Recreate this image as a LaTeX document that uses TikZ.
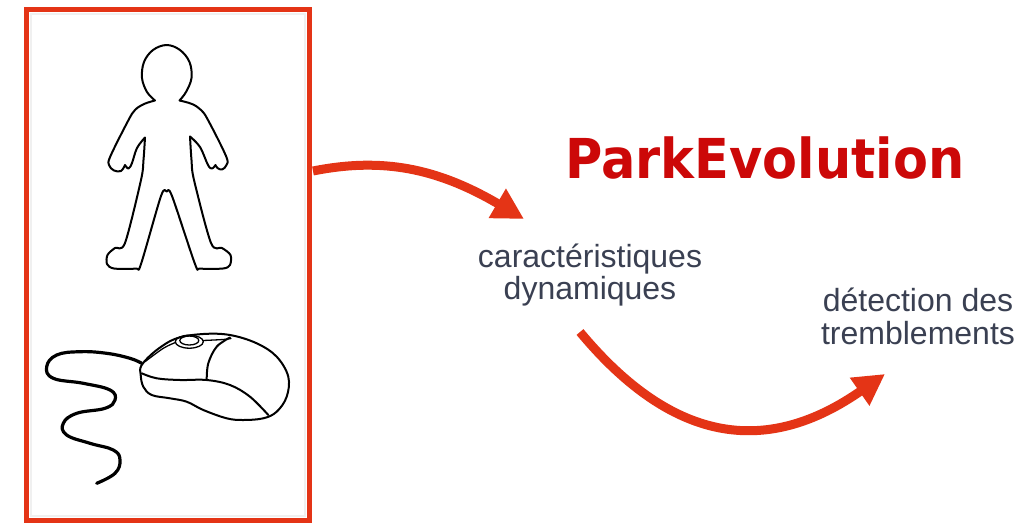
\documentclass[tikz,border=0pt]{standalone}
\usepackage{fontspec}
\setmainfont{Liberation Sans}
\newfontfamily\titlefont{DejaVu Sans}
\usetikzlibrary{arrows.meta}
\definecolor{framered}{RGB}{228,52,22}
\definecolor{titlered}{RGB}{204,8,8}
\definecolor{labelgrey}{RGB}{58,64,82}

\begin{document}
\begin{tikzpicture}[x=1pt,y=-1pt,
  panel/.style={draw=framered, line width=5pt, minimum width=283pt,
    minimum height=510.5pt, inner sep=0pt, outer sep=0pt},
  flowarrow/.style={draw=framered, line width=9pt,
    -{Triangle[length=31pt,width=32pt]}},
  lbltext/.style={text=labelgrey, font=\fontsize{32}{33}\selectfont,
    inner sep=0pt, anchor=base},
  titletext/.style={text=titlered,
    font=\titlefont\bfseries\fontsize{55}{60}\selectfont,
    inner sep=0pt, anchor=base},
  figline/.style={line width=2pt, line join=round, line cap=round},
  thinline/.style={line width=1.3pt, line join=round, line cap=round},
  cord/.style={line width=3.2pt, line cap=round, line join=round},
]
\useasboundingbox (0,0) rectangle (1034,523);
\fill[white] (0,0) rectangle (1034,523);

% soft inner shadow of the frame
\draw[black!6, line width=2.5pt] (31,14) rectangle (305,516);
% frame around the two pictures
\node[panel] (panel) at (168,264.75) {};

% person outline
\draw[figline]
  plot[smooth, tension=0.6] coordinates {(155,100.5) (147,92) (142,78) (144,62)
    (153,50) (166.7,45) (180,50) (189.5,62) (191.5,78) (186,92) (179.5,100.5)}
  -- plot[smooth, tension=0.6] coordinates {(179.5,100.5) (192,104) (201,110)
    (208,120) (226,156) (226.5,165) (222,169.5) (217.5,168) (215.5,165)}
  -- plot[smooth, tension=0.6] coordinates {(215.5,165) (212,168.5) (208,165)
    (200,147) (190,136.5)}
  -- plot[smooth, tension=0.5] coordinates {(190,136.5) (191.5,160) (194,180)
    (211,243) (222,248) (230.5,255) (230,265) (223,268.5) (200,268.5) (195,264)
    (172,196) (166.7,191.5) (161,196) (141,264) (136,268.5) (114,268.5) (107,264)
    (107.5,255) (115,248) (125,243) (141,180) (143.5,160) (145,137.5)}
  -- plot[smooth, tension=0.6] coordinates {(145,137.5) (137,148) (132,163)
    (128.5,168.5) (125,165)}
  -- plot[smooth, tension=0.6] coordinates {(125,165) (121,171) (114,170.5)
    (109,165) (110.5,156) (128,121) (135,110) (144,104) (155,100.5)}
  -- cycle;

% mouse cable
\draw[cord] plot[smooth, tension=0.7] coordinates {(141.7,363.3) (130,358.3)
  (106.7,353.3) (80,351.7) (56.7,355) (46.7,366.7) (53.3,378.3) (83.3,383.3)
  (110,390) (115,400) (105,408.3) (76.7,413.3) (63.3,423.3) (66.7,435)
  (90,443.3) (113.3,450) (120,460) (115,473.3) (96.7,483.3)};

% mouse body
\draw[figline, fill=white] plot[smooth cycle, tension=0.6] coordinates {(141.7,365)
  (156.7,350) (176.7,338.3) (203.3,334) (230,335) (256.7,343.3) (276.7,356.7)
  (288.3,376.7) (286.7,396.7) (276.7,411.7) (263.3,418.3) (243.3,420)
  (226.7,418.3) (203.3,410) (186.7,401.7) (170,398.3) (151.7,395) (143.3,386.7)
  (140.7,375)};
\draw[figline] plot[smooth, tension=0.6] coordinates {(141.7,373.3) (156.7,378.3)
  (180,380) (206.7,380) (230,385) (250,396.7) (268.3,415)};
\draw[figline] plot[smooth, tension=0.6] coordinates {(206.7,380) (208.3,363.3)
  (216.7,346.7) (230,337.5)};
\draw[thinline] plot[smooth, tension=0.6] coordinates {(145,361.7) (163.3,348.3)
  (175.5,342.5)};
\draw[thinline] plot[smooth, tension=0.6] coordinates {(203,340.5) (223,339.5)
  (231,338.5)};
\draw[thinline] (189.3,341.7) ellipse [x radius=14, y radius=6.5];
\draw[thinline] (189.3,340.5) ellipse [x radius=9.5, y radius=4.5];

% headings and labels
\node[titletext] (title) at (765,178.3) {\scalebox{0.926}[1]{ParkEvolution}};
\node[lbltext] (feat1) at (590,267.5) {caractéristiques};
\node[lbltext] (feat2) at (590,299.5) {dynamiques};
\node[lbltext] (det1) at (918,311) {détection des};
\node[lbltext] (det2) at (918,344) {tremblements};

% flow arrows
\coordinate (a1s) at (313,171);
\coordinate (a1e) at (524,219);
\draw[flowarrow] (a1s) .. controls (383,157) and (437.7,168.4) .. (a1e);
\coordinate (a2s) at (580,332);
\coordinate (a2e) at (885,374);
\draw[flowarrow] (a2s) .. controls (676,447.5) and (770.3,454.2) .. (a2e);
\end{tikzpicture}
\end{document}
